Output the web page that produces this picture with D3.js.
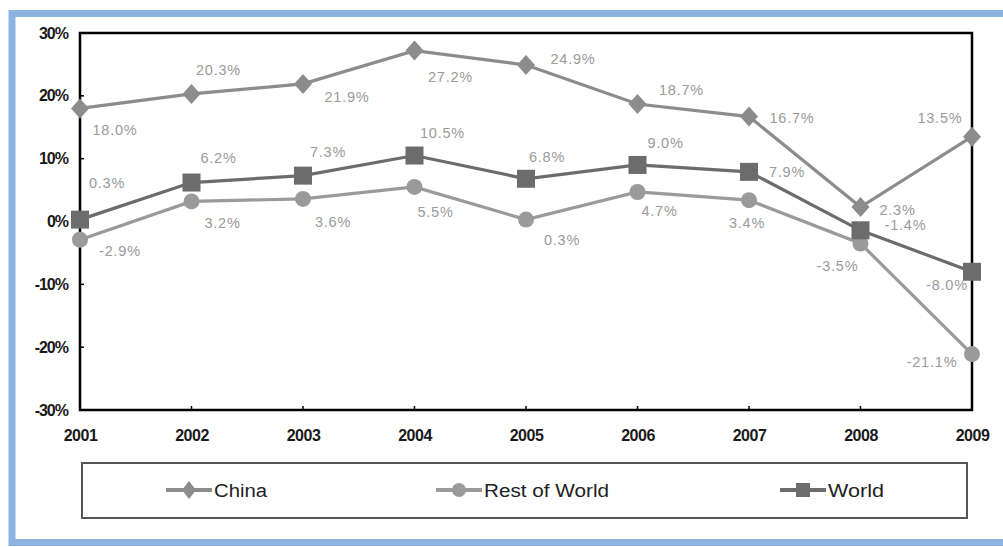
<!DOCTYPE html>
<html><head><meta charset="utf-8">
<script src="https://cdn.jsdelivr.net/npm/d3@7"></script>
<style>
html,body{margin:0;padding:0;background:#fff;}
svg{display:block;font-family:Arial,"Liberation Sans",sans-serif;}
</style></head>
<body><svg id="c" width="1003" height="547"></svg>
<script>
const years = ["2001","2002","2003","2004","2005","2006","2007","2008","2009"];
const china = [18.0,20.3,21.9,27.2,24.9,18.7,16.7,2.3,13.5];
const restOfWorld = [-2.9,3.2,3.6,5.5,0.3,4.7,3.4,-3.5,-21.1];
const world = [0.3,6.2,7.3,10.5,6.8,9.0,7.9,-1.4,-8.0];
const yTicks = [-30,-20,-10,0,10,20,30];
const seriesNames = ["China","Rest of World","World"];

// label offsets from the point (style only)
const chinaOff = [[35,22],[27,-24],[44,13],[36,26],[47,-6],[44,-14],[43,1],[37,3],[-32,-19]];
const rowOff = [[40,11],[31,22],[30,23],[21,25],[36,20],[22,19],[-2,23],[-23,23],[-40,8]];
const worldOff = [[27,-37],[27,-25],[25,-24],[28,-23],[21,-22],[28,-22],[38,0],[45,-5],[-25,13]];

const svg = d3.select("#c");
// blue frame
svg.append("rect").attr("x",12).attr("y",13.5).attr("width",1003).attr("height",529)
  .attr("fill","none").attr("stroke","#8db3e2").attr("stroke-width",7);

const x = d3.scalePoint().domain(years).range([80,972]);
const y = d3.scaleLinear().domain([-30,30]).range([410,33]);

// plot frame
svg.append("rect").attr("x",80).attr("y",33).attr("width",892).attr("height",377)
  .attr("fill","none").attr("stroke","#000").attr("stroke-width",2.5);

const yAxis = d3.axisLeft(y).tickValues(yTicks).tickSize(0).tickPadding(12).tickFormat(d=>d+"%");
const ga = svg.append("g").attr("transform","translate(80,0)").call(yAxis);
ga.select(".domain").remove();
ga.selectAll("text").attr("font-size",16).attr("fill","#1a1a1a").attr("font-weight","bold").attr("letter-spacing","-1");
const xAxis = d3.axisBottom(x).tickSize(0).tickPadding(20);
const gx = svg.append("g").attr("transform","translate(0,410)").call(xAxis);
gx.select(".domain").remove();
gx.selectAll("text").attr("font-size",16).attr("fill","#1a1a1a").attr("font-weight","bold").attr("letter-spacing","-0.5");
svg.append("g").selectAll("line").data(years.slice(1,-1)).join("line")
  .attr("x1",d=>x(d)).attr("x2",d=>x(d)).attr("y1",410).attr("y2",406).attr("stroke","#000").attr("stroke-width",1.5);
svg.append("g").selectAll("line").data(yTicks.slice(1,-1)).join("line")
  .attr("x1",80).attr("x2",84).attr("y1",d=>y(d)).attr("y2",d=>y(d)).attr("stroke","#000").attr("stroke-width",1.5);

const colChina="#8c8c8c", colRow="#9a9a9a", colWorld="#6c6c6c";
const line = d3.line().x((d,i)=>x(years[i])).y(d=>y(d));

function drawSeries(vals,col,shape){
  svg.append("path").datum(vals).attr("d",line).attr("fill","none").attr("stroke",col).attr("stroke-width",3.2);
  const g = svg.append("g");
  vals.forEach((v,i)=>{
    const cx=x(years[i]), cy=y(v);
    if(shape==="diamond") g.append("path").attr("d",`M${cx},${cy-10}L${cx+9},${cy}L${cx},${cy+10}L${cx-9},${cy}Z`).attr("fill",col);
    else if(shape==="circle") g.append("circle").attr("cx",cx).attr("cy",cy).attr("r",8).attr("fill",col);
    else g.append("rect").attr("x",cx-9).attr("y",cy-9).attr("width",18).attr("height",18).attr("fill",col);
  });
}
drawSeries(restOfWorld,colRow,"circle");
drawSeries(world,colWorld,"square");
drawSeries(china,colChina,"diamond");

function drawLabels(vals,off){
  svg.append("g").selectAll("text").data(vals).join("text")
    .attr("x",(d,i)=>x(years[i])+off[i][0]).attr("y",(d,i)=>y(d)+off[i][1]+5)
    .attr("text-anchor","middle").attr("font-size",14.5).attr("fill","#9a9a9a").attr("letter-spacing","0.8")
    .text(d=>d.toFixed(1)+"%");
}
drawLabels(china,chinaOff);
drawLabels(restOfWorld,rowOff);
drawLabels(world,worldOff);

// legend
svg.append("rect").attr("x",82).attr("y",463).attr("width",885).attr("height",55)
  .attr("fill","none").attr("stroke","#555").attr("stroke-width",2);
const legX=[166,436,780], legCol=[colChina,colRow,colWorld], legShape=["diamond","circle","square"], legW=[53,125,56];
seriesNames.forEach((n,i)=>{
  const lx=legX[i], ly=490;
  svg.append("line").attr("x1",lx).attr("x2",lx+46).attr("y1",ly).attr("y2",ly).attr("stroke",legCol[i]).attr("stroke-width",4);
  const cx=lx+23;
  if(legShape[i]==="diamond") svg.append("path").attr("d",`M${cx},${ly-9}L${cx+7},${ly}L${cx},${ly+9}L${cx-7},${ly}Z`).attr("fill",legCol[i]);
  else if(legShape[i]==="circle") svg.append("circle").attr("cx",cx).attr("cy",ly).attr("r",7).attr("fill",legCol[i]);
  else svg.append("rect").attr("x",cx-7).attr("y",ly-7).attr("width",14).attr("height",14).attr("fill",legCol[i]);
  svg.append("text").attr("x",lx+48).attr("y",ly+7).attr("font-size",18)
    .attr("textLength",legW[i]).attr("lengthAdjust","spacingAndGlyphs")
    .attr("fill","#222").text(n);
});
</script></body></html>
